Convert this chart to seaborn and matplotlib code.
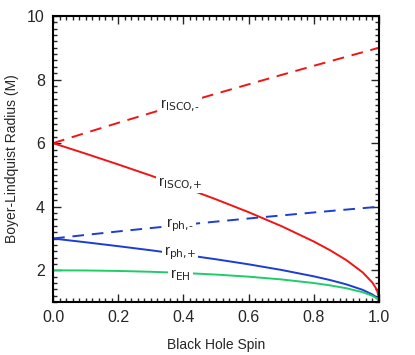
import numpy as np
import pandas as pd
import matplotlib
matplotlib.use('Agg')
import matplotlib.pyplot as plt
import seaborn as sns
from matplotlib.ticker import MultipleLocator

# black hole spin values
spin = [0.0, 0.1, 0.2, 0.3, 0.4, 0.5, 0.6, 0.7, 0.8, 0.85, 0.9, 0.95, 0.98, 0.99, 0.995, 0.999, 0.9999, 1.0]

# radii (units of M)
r_isco_minus = [6.0, 6.323, 6.639, 6.949, 7.254, 7.555, 7.850, 8.143, 8.432, 8.575, 8.717, 8.859, 8.944, 8.972, 8.986, 8.997, 9.0, 9.0]
r_isco_plus = [6.0, 5.669, 5.329, 4.979, 4.614, 4.233, 3.829, 3.393, 2.907, 2.632, 2.321, 1.937, 1.614, 1.454, 1.341, 1.182, 1.079, 1.0]
r_ph_minus = [3.0, 3.113, 3.223, 3.329, 3.432, 3.532, 3.630, 3.725, 3.819, 3.865, 3.910, 3.955, 3.982, 3.991, 3.996, 3.999, 4.0, 4.0]
r_ph_plus = [3.0, 2.882, 2.759, 2.630, 2.493, 2.347, 2.189, 2.013, 1.811, 1.694, 1.558, 1.386, 1.240, 1.168, 1.118, 1.052, 1.016, 1.0]
r_eh = [2.0, 1.995, 1.980, 1.954, 1.917, 1.866, 1.800, 1.714, 1.600, 1.527, 1.436, 1.312, 1.199, 1.141, 1.100, 1.045, 1.014, 1.0]

curve_labels = [r'r$_{\text{ISCO,-}}$', r'r$_{\text{ISCO,+}}$', r'r$_{\text{ph,-}}$', r'r$_{\text{ph,+}}$', r'r$_{\text{EH}}$']

df = pd.DataFrame({'spin': spin, 'isco_m': r_isco_minus, 'isco_p': r_isco_plus,
                   'ph_m': r_ph_minus, 'ph_p': r_ph_plus, 'eh': r_eh})

sns.set_style('ticks')
plt.rcParams['font.family'] = ['Liberation Sans', 'DejaVu Sans']
plt.rcParams['mathtext.default'] = 'regular'

fig = plt.figure(figsize=(4.15, 3.55), dpi=100)
ax = fig.add_axes([0.128, 0.149, 0.785, 0.806])

red = '#f01414'
blue = '#1c3cd4'
green = '#1fcc6a'
lw = 1.4
dash = (6, 4)

sns.lineplot(data=df, x='spin', y='isco_m', ax=ax, color=red, lw=lw).lines[-1].set_dashes(dash)
sns.lineplot(data=df, x='spin', y='isco_p', ax=ax, color=red, lw=lw)
sns.lineplot(data=df, x='spin', y='ph_m', ax=ax, color=blue, lw=lw).lines[-1].set_dashes(dash)
sns.lineplot(data=df, x='spin', y='ph_p', ax=ax, color=blue, lw=lw)
sns.lineplot(data=df, x='spin', y='eh', ax=ax, color=green, lw=lw)

label_pos = [(0.39, 7.2), (0.39, 4.74), (0.39, 3.42), (0.39, 2.54), (0.39, 1.85)]
for (x, y), txt in zip(label_pos, curve_labels):
    ax.text(x, y, txt, fontsize=11, ha='center', va='center',
            bbox=dict(facecolor='white', edgecolor='none', pad=1.5))

ax.set_xlim(0, 1)
ax.set_ylim(1, 10)
ax.xaxis.set_major_locator(MultipleLocator(0.2))
ax.xaxis.set_minor_locator(MultipleLocator(0.02))
ax.yaxis.set_major_locator(MultipleLocator(2))
ax.yaxis.set_minor_locator(MultipleLocator(0.2))
ax.set_xticklabels([f'{v:.1f}' for v in ax.get_xticks()])
ax.tick_params(which='both', direction='in', top=True, right=True, width=1.0, labelsize=11.5, pad=6)
ax.tick_params(which='major', length=6)
ax.tick_params(which='minor', length=3)
for s in ax.spines.values():
    s.set_linewidth(1.5)
    s.set_color('black')

ax.set_xlabel('Black Hole Spin', fontsize=10, labelpad=9)
ax.set_ylabel('Boyer-Lindquist Radius (M)', fontsize=10, labelpad=6)

fig.savefig('out.png', dpi=100)
